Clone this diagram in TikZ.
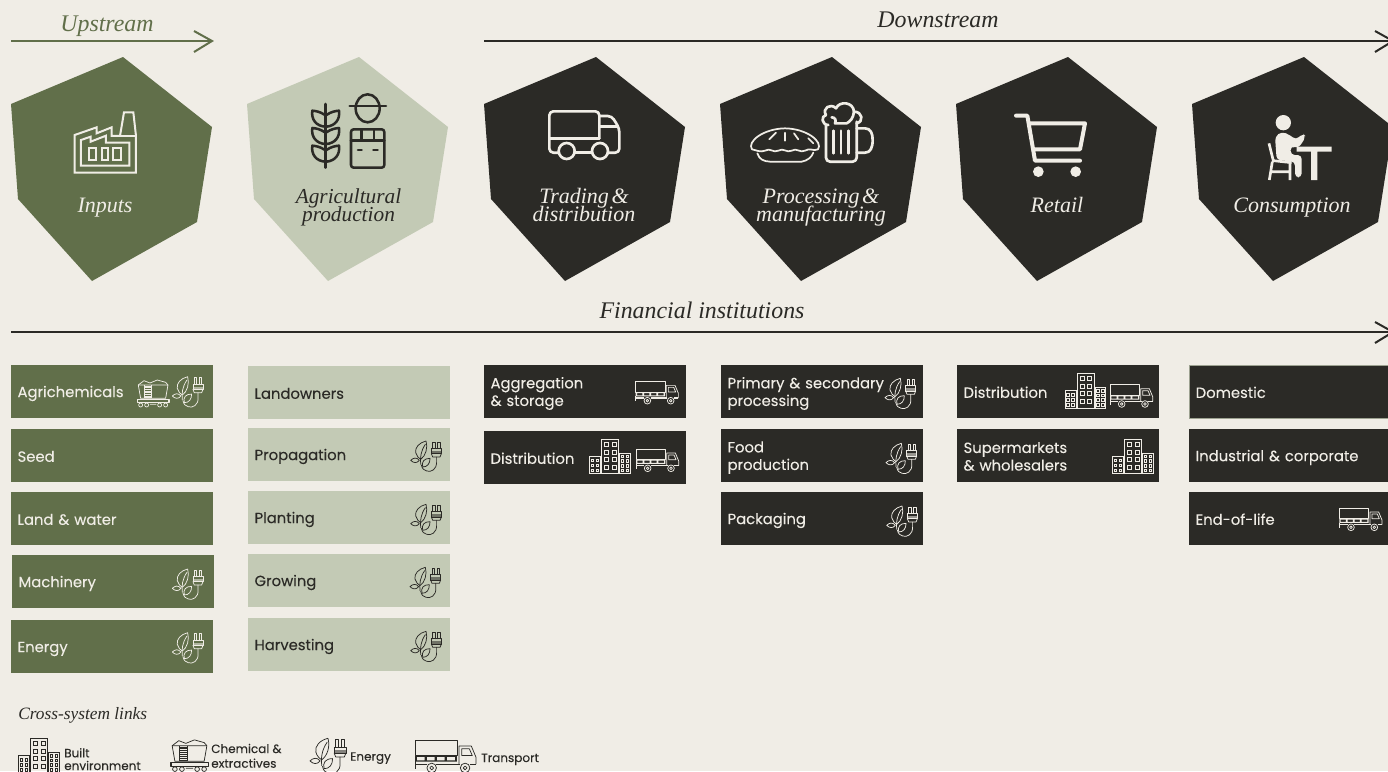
\documentclass[tikz,border=0pt]{standalone}
\usepackage{fontspec}
\setmainfont{Liberation Serif}
\setsansfont{Poppins}[FakeBold=0.12]
\definecolor{bgc}{HTML}{F0EDE6}
\definecolor{grn}{HTML}{616F4A}
\definecolor{lgt}{HTML}{C3CAB5}
\definecolor{drk}{HTML}{2B2A26}
\AtBeginDocument{\lineskiplimit=-10pt\relax}
\newcommand\HT[1]{\vrule width 0pt height 11.2pt\relax #1\vrule width 0pt depth 3.6pt\relax}
\newcommand\PT[1]{\vrule width 0pt height 11pt\relax #1\vrule width 0pt depth 2pt\relax}
\tikzset{
  x=0.75pt,y=-0.75pt,
  hexlab/.style={font=\itshape\fontsize{16.5}{13.5}\selectfont,align=center,inner sep=0pt},
  headlab/.style={anchor=base,font=\itshape\fontsize{17.9}{20}\selectfont,inner sep=0pt},
  arrowline/.style={line width=1.5pt},
  chevron/.style={line width=1.5pt,line join=miter},
  panel/.style={anchor=north west,minimum width=151.5pt,minimum height=39.75pt,inner xsep=4.5pt,inner ysep=0pt,
    text width=142pt,align=left,font=\sffamily\fontsize{11.1}{13.2}\selectfont},
  greenp/.style={panel,fill=grn,text=bgc},
  lightp/.style={panel,fill=lgt,text=drk},
  darkp/.style={panel,fill=drk,text=bgc},
  legtxt/.style={anchor=base west,inner sep=0pt,font=\sffamily\fontsize{9}{11}\selectfont,text=drk},
  thin icon/.style={line width=0.55pt},
  pics/hexa/.style={code={\fill (112,57)--(201,127)--(186,222)--(81,281)--(7,199)--(0,104)--cycle;}},
  pics/factory/.style={code={
    \begin{scope}[line width=1.5pt,line join=miter]
    \draw (224,518)--(224,405)--(290,382)--(290,400)--(335,382)--(335,408)--(360,408)--(372,337)--(400,337)--(408,408)--(408,518)--cycle;
    \draw (243,497)--(243,420)--(272,410)--(272,425)--(318,407)--(318,428)--(388,428)--(388,497)--cycle;
    \draw (360,408)--(408,408);
    \draw (268,445) rectangle (288,480) (305,445) rectangle (325,480) (340,445) rectangle (362,480);
    \end{scope}}},
  pics/farmer/.style={code={
    \begin{scope}[line width=1.9pt,line cap=round,line join=round]
    \draw (977,312)--(977,503);
    \foreach \d in {0,52,105}{
      \draw (975,345+\d) .. controls (960,335+\d) and (948,333+\d) .. (937,332+\d) .. controls (933,360+\d) and (950,378+\d) .. (975,380+\d);
      \draw (979,345+\d) .. controls (994,335+\d) and (1006,333+\d) .. (1017,332+\d) .. controls (1021,360+\d) and (1004,378+\d) .. (979,380+\d);
    }
    \draw (1049,318)--(1158,318);
    \draw (1103,325) ellipse[x radius=36,y radius=42];
    \draw[rounded corners=2pt] (1053,388) rectangle (1153,503);
    \draw (1053,422)--(1153,422) (1085,388)--(1085,422) (1122,388)--(1122,422);
    \draw (1074,450)--(1085,450) (1120,450)--(1133,450);
    \end{scope}}},
  pics/bigtruck/.style={code={
    \begin{scope}[line width=2pt,line join=round,line cap=round]
    \draw[rounded corners=3pt] (266,338)--(238,338)--(238,214)--(388,214)--(388,295);
    \draw (314,338)--(366,338);
    \draw[rounded corners=3pt] (388,228)--(425,228)--(448,265)--(448,338)--(414,338);
    \draw (238,295)--(388,295) (388,260)--(440,260);
    \draw (290,333) circle[radius=24] (390,333) circle[radius=24];
    \end{scope}}},
  pics/piebeer/.style={code={
    \begin{scope}[line width=1.3pt,line join=round,line cap=round]
    \draw (846,328) .. controls (830,305) and (880,266) .. (945,265) .. controls (1010,266) and (1060,305) .. (1044,328) .. controls (1030,335) and (1020,322) .. (1005,332) .. controls (990,340) and (980,322) .. (965,332) .. controls (950,340) and (940,322) .. (925,332) .. controls (910,340) and (900,322) .. (885,332) .. controls (870,338) and (858,330) .. (846,328);
    \draw (862,340) .. controls (868,358) and (880,364) .. (900,365) -- (995,365) .. controls (1012,362) and (1025,352) .. (1030,338);
    \draw (898,298)--(918,278) (945,278)--(945,302) (972,280)--(985,298) (1015,295)--(1030,310);
    \end{scope}
    \begin{scope}[line width=2pt,line join=round,line cap=round]
    \draw[rounded corners=3pt] (1068,255)--(1068,365)--(1160,365)--(1160,245);
    \draw (1160,265)--(1185,265) .. controls (1202,265) and (1208,280) .. (1208,300) .. controls (1208,322) and (1202,338) .. (1185,338) -- (1160,338);
    \draw (1075,255) .. controls (1055,255) and (1052,228) .. (1068,225) .. controls (1055,205) and (1082,188) .. (1098,205) .. controls (1108,182) and (1150,185) .. (1152,215) .. controls (1178,215) and (1182,245) .. (1160,250);
    \draw (1085,232) .. controls (1095,232) and (1100,240) .. (1095,250) -- (1130,250) .. controls (1140,245) and (1150,235) .. (1152,215);
    \draw (1090,272)--(1090,340) (1113,272)--(1113,340) (1136,272)--(1136,340);
    \end{scope}}},
  pics/cart/.style={code={
    \begin{scope}[line width=3pt,line join=round,line cap=round]
    \draw (228,227)--(262,227)--(285,362)--(420,362);
    \draw (268,250)--(435,250)--(420,328)--(280,328);
    \fill (295,395) circle[radius=16] (407,395) circle[radius=16];
    \end{scope}}},
  pics/sitter/.style={code={
    \fill (1030,248) circle[radius=23];
    \fill[rounded corners=3pt] (1005,290)--(1025,275)--(1050,285)--(1068,300)--(1088,280)--(1098,290)--(1075,325)--(1052,318)--(1052,345)--(1085,345)--(1085,412)--(1065,412)--(1065,365)--(1010,360)--cycle;
    \fill (1070,320) rectangle (1175,335) (1113,335) rectangle (1132,420);
    \begin{scope}[line width=2pt]
    \draw (987,310)--(1000,362)--(1055,368) (988,420)--(997,365) (1050,368)--(1050,420) (992,395)--(1050,395);
    \end{scope}}},
  pics/builds/.style={code={
    \begin{scope}[thin icon]
    \draw (36,0) rectangle (88,104) (0,52) rectangle (34,104) (90,42) rectangle (122,104);
    \foreach \a in {46,68}{\foreach \b in {10,33,55,78}{\draw (\a,\b) rectangle ++(12,12);}}
    \foreach \a in {5,20}{\foreach \b in {60,75,90}{\draw (\a,\b) rectangle ++(8,8);}}
    \foreach \a in {95,110}{\foreach \b in {48,62,76,90}{\draw (\a,\b) rectangle ++(8,8);}}
    \end{scope}}},
  pics/lorry/.style={code={
    \begin{scope}[thin icon,line join=round]
    \draw (0,2) rectangle (88,34);
    \fill[even odd rule] (0,34) rectangle (88,47) (4,37) rectangle (20,44) (25,37) rectangle (41,44) (46,37) rectangle (62,44) (67,37) rectangle (84,44);
    \draw (92,52)--(92,14)--(118,14)--(128,38)--(128,52) (98,20)--(114,20)--(120,34)--(98,34)--cycle;
    \draw[line width=.9pt] (0,52)--(25,52) (45,52)--(95,52) (115,52)--(128,52);
    \draw (0,46)--(0,62);
    \draw (35,60) circle[radius=10] (35,60) circle[radius=4] (105,60) circle[radius=10] (105,60) circle[radius=4];
    \end{scope}}},
  pics/wagon/.style={code={
    \begin{scope}[thin icon,line join=round]
    \draw (3,18)--(92,18)--(85,58)--(10,58)--cycle;
    \draw (3,18)--(20,5)--(38,12)--(60,3)--(85,10)--(92,18);
    \foreach \b in {21,26,31,36,41,46,51,56}{\draw (22,\b)--(42,\b);}
    \draw (22,18)--(22,58) (42,18)--(42,58);
    \draw[line width=.8pt] (0,62) rectangle (95,71);
    \draw (10,78) circle[radius=6] (28,78) circle[radius=6] (67,78) circle[radius=6] (85,78) circle[radius=6] (38,76)--(57,76);
    \end{scope}}},
  pics/leafplug/.style={code={
    \begin{scope}[thin icon,line join=round,line cap=round]
    \draw (46,0) .. controls (25,5) and (12,20) .. (15,35) .. controls (17,45) and (25,52) .. (30,55) .. controls (45,45) and (52,20) .. (46,0);
    \draw (44,10) .. controls (30,30) and (28,50) .. (30,70);
    \draw (0,58) .. controls (8,50) and (18,48) .. (26,58) .. controls (18,68) and (8,66) .. (0,58);
    \draw (58,52) .. controls (40,52) and (32,62) .. (36,78) .. controls (50,78) and (58,68) .. (58,52);
    \draw (62,22) rectangle (92,38);
    \fill[opacity=.55] (62,30) rectangle (92,38);
    \draw (62,38)--(66,48)--(88,48)--(92,38);
    \draw (66,22)--(66,3)--(73,3)--(73,22) (81,22)--(81,3)--(88,3)--(88,22);
    \draw (77,48)--(77,62) .. controls (80,85) and (60,95) .. (48,90) .. controls (40,87) and (35,85) .. (32,72);
    \end{scope}}}
}
\begin{document}
\begin{tikzpicture}
\useasboundingbox (0,0) rectangle (1388,771);
\fill[bgc] (0,0) rectangle (1388,771);
% arrows
\coordinate (us) at (11,41); \coordinate (ue) at (212,41); \coordinate (ua) at (194,31); \coordinate (ub) at (194,52);
\coordinate (ds) at (484,41); \coordinate (de) at (1393,41); \coordinate (da) at (1375,31); \coordinate (db) at (1375,52);
\coordinate (fs) at (11,332); \coordinate (fe) at (1393,332); \coordinate (fa) at (1375,322); \coordinate (fb) at (1375,343);
\draw[arrowline,grn] (us)--(ue);
\draw[chevron,grn] (ua)--(ue)--(ub);
\draw[arrowline,drk] (ds)--(de);
\draw[chevron,drk] (da)--(de)--(db);
\draw[arrowline,drk] (fs)--(fe);
\draw[chevron,drk] (fa)--(fe)--(fb);
\node[headlab,text=grn] (upstream) at (107,31.5) {Upstream};
\node[headlab,text=drk] (downstream) at (938,27) {Downstream};
\node[headlab,text=drk] (financial) at (702,318) {Financial institutions};
% hexagons
\pic[color=grn] at (11,0) {hexa};
\pic[color=lgt] at (247,0) {hexa};
\pic[color=drk] at (484,0) {hexa};
\pic[color=drk] at (720,0) {hexa};
\pic[color=drk] at (956,0) {hexa};
\pic[color=drk] at (1192,0) {hexa};
% big icons
\pic[color=bgc,scale=1/3] at (0,0) {factory};
\pic[color=drk,scale=1/3] at (0,0) {farmer};
\pic[color=bgc,scale=1/3] at (470,40) {bigtruck};
\pic[color=bgc,scale=1/3] at (470,40) {piebeer};
\pic[color=bgc,scale=1/3] at (940,40) {cart};
\pic[color=bgc,scale=1/3] at (940,40) {sitter};
% hexagon labels
\node[hexlab,text=bgc] (inputs) at (105,207) {\HT{Inputs}};
\node[hexlab,text=drk,font=\itshape\fontsize{16}{13.5}\selectfont] (agri) at (348.5,207) {\HT{Agricultural}\\\HT{production}};
\node[hexlab,text=bgc] (trading) at (584,207) {\HT{Trading\hspace{.12em}\&}\\\HT{distribution}};
\node[hexlab,text=bgc] (processing) at (821,207) {\HT{Processing\hspace{.12em}\&}\\\HT{manufacturing}};
\node[hexlab,text=bgc] (retail) at (1057,207) {\HT{Retail}};
\node[hexlab,text=bgc] (consumption) at (1292,207) {\HT{Consumption}};
% panels column 1
\node[greenp] (p11) at (11,365) {\PT{Agrichemicals}};
\node[greenp] (p12) at (11,429) {\PT{Seed}};
\node[greenp] (p13) at (11,492) {\PT{Land \& water}};
\node[greenp] (p14) at (12,555) {\PT{Machinery}};
\node[greenp] (p15) at (11,620) {\PT{Energy}};
% column 2
\node[lightp] (p21) at (248,366) {\PT{Landowners}};
\node[lightp] (p22) at (248,428) {\PT{Propagation}};
\node[lightp] (p23) at (248,491) {\PT{Planting}};
\node[lightp] (p24) at (248,554) {\PT{Growing}};
\node[lightp] (p25) at (248,618) {\PT{Harvesting}};
% column 3
\node[darkp] (p31) at (484,365) {\PT{Aggregation\\\& storage}};
\node[darkp] (p32) at (484,431) {\PT{Distribution}};
% column 4
\node[darkp] (p41) at (721,365) {\PT{Primary \& secondary\\processing}};
\node[darkp] (p42) at (721,429) {\PT{Food\\production}};
\node[darkp] (p43) at (721,492) {\PT{Packaging}};
% column 5
\node[darkp] (p51) at (957,365) {\PT{Distribution}};
\node[darkp] (p52) at (957,429) {\PT{Supermarkets\\\& wholesalers}};
% column 6
\node[darkp,draw=lgt!75!drk,line width=.6pt] (p61) at (1189,365) {\PT{Domestic}};
\node[darkp] (p62) at (1189,429) {\PT{Industrial \& corporate}};
\node[darkp] (p63) at (1189,492) {\PT{End-of-life}};
% panel icons
\pic[color=bgc,scale=1/3] at (137.3,379) {wagon};
\pic[color=bgc,scale=1/3] at (172.3,376.7) {leafplug};
\pic[color=bgc,scale=1/3] at (172.3,569) {leafplug};
\pic[color=bgc,scale=1/3] at (172.3,632.7) {leafplug};
\pic[color=drk,scale=1/3] at (410.7,441) {leafplug};
\pic[color=drk,scale=1/3] at (410.7,504.3) {leafplug};
\pic[color=drk,scale=1/3] at (410,567.3) {leafplug};
\pic[color=drk,scale=1/3] at (410.7,631.3) {leafplug};
\pic[color=bgc,scale=1/3] at (635.7,380.7) {lorry};
\pic[color=bgc,scale=1/3] at (589.3,439) {builds};
\pic[color=bgc,scale=1/3] at (636,448.3) {lorry};
\pic[color=bgc,scale=1/3] at (885,378.3) {leafplug};
\pic[color=bgc,scale=1/3] at (886,443.3) {leafplug};
\pic[color=bgc,scale=1/3] at (886.7,506) {leafplug};
\pic[color=bgc,scale=1/3] at (1065,373.3) {builds};
\pic[color=bgc,scale=1/3] at (1110,384) {lorry};
\pic[color=bgc,scale=1/3] at (1112.3,439) {builds};
\pic[color=bgc,scale=1/3] at (1339.3,507.3) {lorry};
% legend
\node[anchor=base west,inner sep=0pt,font=\itshape\fontsize{13}{15}\selectfont,text=drk] (cross) at (18,719.8) {Cross-system links};
\pic[color=drk,scale=1/3] at (18.3,738.3) {builds};
\pic[color=drk,scale=0.39] at (171,738.7) {wagon};
\pic[color=drk,scale=0.39] at (310,738.3) {leafplug};
\pic[color=drk,scale=0.477] at (415,739.3) {lorry};
\node[legtxt] (lb1) at (64,757.3) {Built};
\node[legtxt] (lb2) at (64,770) {environment};
\node[legtxt] (lc1) at (211,753) {Chemical \&};
\node[legtxt] (lc2) at (211,767.7) {extractives};
\node[legtxt] (le) at (350,760.7) {Energy};
\node[legtxt] (lt) at (481,762) {Transport};
\end{tikzpicture}
\end{document}
